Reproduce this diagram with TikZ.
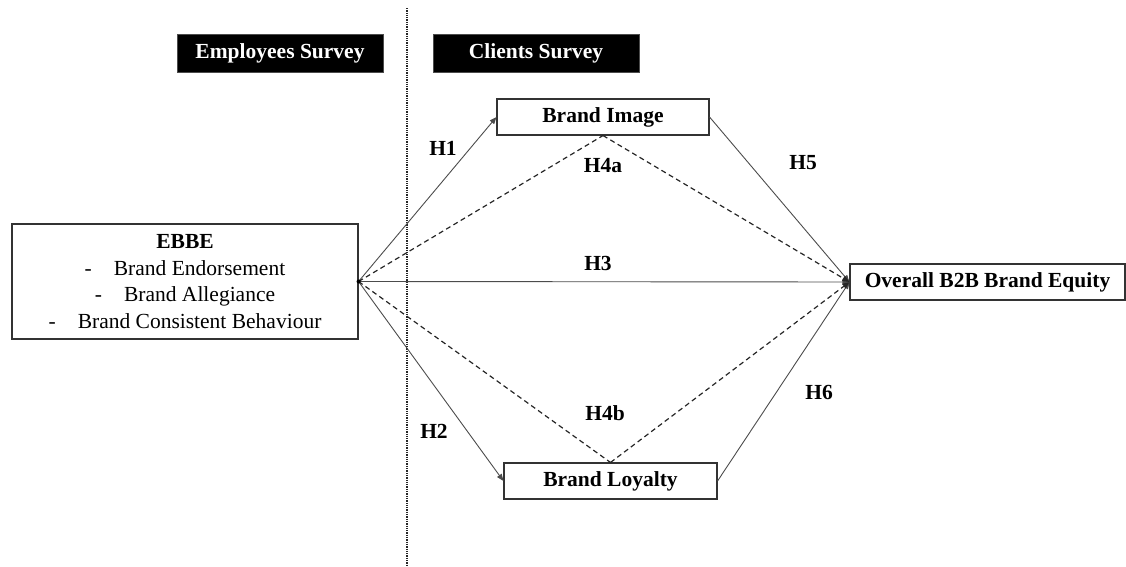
\documentclass[tikz,border=0pt]{standalone}
\usepackage{fontspec}
\setmainfont{Liberation Serif}
\usetikzlibrary{arrows.meta}

\tikzset{
    hdr/.style={fill=black, draw=gray!60!black, text=white, font=\bfseries, minimum width=206, minimum height=38, inner sep=0pt},
    box/.style={draw=black!80, line width=1.1pt, fill=white, minimum height=36, inner sep=0pt},
    sol/.style={gray!60!black, line width=0.9pt},
    dsh/.style={black!85, line width=1.2pt, dash pattern=on 5pt off 3.5pt},
    hyp/.style={font=\bfseries}
}

\begin{document}
\begin{tikzpicture}[x=1pt, y=-1pt, >={Triangle[length=7pt, width=5.5pt]}]
    \fontsize{21.5}{26.5}\selectfont
    \useasboundingbox (0,0) rectangle (1126,567);

    % divisao entre os questionarios
    \coordinate (topo) at (407,8);
    \coordinate (base) at (407,567);
    \draw[black!85, line width=1.1pt, dash pattern=on 1.3pt off 1pt] (topo) -- (base);

    % cabecalhos
    \node[hdr] (emp) at (280,53) {Employees Survey};
    \node[hdr] (cli) at (536,53) {Clients Survey};

    % caixas
    \node[box, minimum width=346, minimum height=115, align=center] (ebbe) at (185,281.5)
        {\textbf{EBBE}\\ -\hspace{22pt}Brand Endorsement\\ -\hspace{22pt}Brand Allegiance\\ -\hspace{22pt}Brand Consistent Behaviour};
    \node[box, minimum width=212, font=\bfseries] (img) at (603,117) {Brand Image};
    \node[box, minimum width=213, font=\bfseries] (loy) at (610.5,481) {Brand Loyalty};
    \node[box, minimum width=275, font=\bfseries] (bbe) at (987.5,282) {Overall B2B Brand Equity};

    % ligacoes diretas
    \draw[sol, ->] (ebbe.east) -- (img.west);
    \draw[sol, ->] (ebbe.east) -- (loy.west);
    \draw[sol, ->] (ebbe.east) -- (bbe.west);
    \draw[sol, ->] (img.east) -- (bbe.west);
    \draw[sol, ->] (loy.east) -- (bbe.west);

    % mediacao (tracejado)
    \draw[dsh] (ebbe.east) -- (img.south);
    \draw[dsh] (ebbe.east) -- (loy.north);
    \draw[dsh, ->] (img.south) -- (bbe.west);
    \draw[dsh, ->] (loy.north) -- (bbe.west);
    \fill (ebbe.east) circle (2);

    % hipoteses
    \node[hyp] (h1) at (443,148) {H1};
    \node[hyp] (h2) at (434,431) {H2};
    \node[hyp] (h3) at (598,263) {H3};
    \node[hyp] (h4a) at (603,166) {H4a};
    \node[hyp] (h4b) at (605,413) {H4b};
    \node[hyp] (h5) at (803,163) {H5};
    \node[hyp] (h6) at (819,392) {H6};
\end{tikzpicture}
\end{document}
